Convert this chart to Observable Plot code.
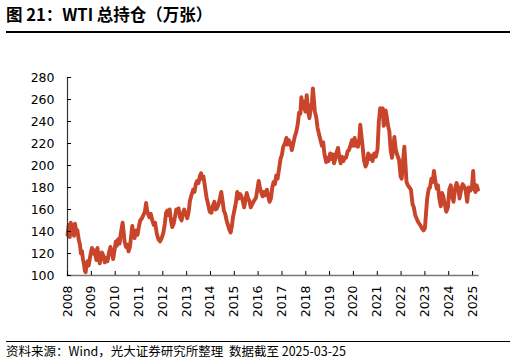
<!DOCTYPE html>
<html><head><meta charset="utf-8">
<script src="https://cdn.jsdelivr.net/npm/d3@7"></script>
<script src="https://cdn.jsdelivr.net/npm/@observablehq/plot@0.6"></script>
<style>
body{margin:0;background:#fff;width:516px;height:364px;position:relative;overflow:hidden;font-family:"Noto Sans CJK SC",sans-serif}
#title{position:absolute;left:6px;top:4px;font-size:16.5px;line-height:20px;font-weight:bold;color:#000;white-space:nowrap}
#tline{position:absolute;left:6px;top:31px;width:504px;height:1.5px;background:#000}
#chart{position:absolute;left:0;top:0}
#fline{position:absolute;left:6px;top:341px;width:504px;height:1px;background:#000}
#foot{position:absolute;left:6px;top:343px;font-size:12.5px;line-height:16px;color:#000;white-space:nowrap}
</style></head>
<body>
<div id="chart"></div>
<div id="title">图 21：WTI 总持仓（万张）</div>
<div id="tline"></div>
<div id="fline"></div>
<div id="foot">资料来源：Wind，光大证券研究所整理&nbsp;&nbsp;数据截至 2025-03-25</div>
<script>
const dates = [
"2008-01-02","2008-01-20","2008-02-05","2008-02-20","2008-03-10","2008-03-25","2008-04-10","2008-04-25","2008-05-15","2008-06-01","2008-06-20","2008-07-10","2008-07-25","2008-08-10","2008-08-25","2008-09-10","2008-09-25","2008-10-05","2008-10-20","2008-11-05","2008-11-20","2008-12-10","2008-12-25",
"2009-01-10","2009-01-25","2009-02-10","2009-03-01","2009-03-20","2009-04-05","2009-04-20","2009-05-10","2009-05-25","2009-06-10","2009-07-05","2009-07-25","2009-08-15","2009-09-05","2009-09-25","2009-10-20","2009-11-10","2009-12-01","2009-12-20",
"2010-01-10","2010-01-25","2010-02-15","2010-03-10","2010-03-25","2010-04-10","2010-04-25","2010-05-10","2010-05-25","2010-06-15","2010-07-05","2010-07-25","2010-08-15","2010-09-05","2010-09-20","2010-10-05","2010-10-25","2010-11-15","2010-12-10",
"2011-01-01","2011-01-20","2011-02-15","2011-03-10","2011-04-01","2011-04-20","2011-05-05","2011-05-20","2011-06-10","2011-07-01","2011-07-25","2011-08-15","2011-09-05","2011-10-01","2011-10-25","2011-11-20","2011-12-15",
"2012-01-10","2012-02-01","2012-02-20","2012-03-10","2012-03-25","2012-04-15","2012-05-05","2012-05-25","2012-06-15","2012-07-05","2012-07-25","2012-08-10","2012-08-30","2012-09-20","2012-10-15","2012-11-05","2012-11-25","2012-12-15",
"2013-01-10","2013-02-01","2013-02-20","2013-03-15","2013-04-10","2013-05-01","2013-05-20","2013-06-10","2013-07-01","2013-07-20","2013-08-10","2013-08-25","2013-09-15","2013-10-10","2013-11-01","2013-11-25","2013-12-20",
"2014-01-15","2014-02-05","2014-03-01","2014-03-20","2014-04-10","2014-05-05","2014-05-25","2014-06-15","2014-07-05","2014-07-25","2014-08-15","2014-09-05","2014-09-25","2014-10-15","2014-11-05","2014-11-25","2014-12-15",
"2015-01-05","2015-01-25","2015-02-15","2015-03-10","2015-04-01","2015-04-20","2015-05-10","2015-06-01","2015-06-20","2015-07-10","2015-08-01","2015-08-20","2015-09-10","2015-10-05","2015-11-01","2015-12-01","2015-12-20",
"2016-01-10","2016-01-25","2016-02-15","2016-03-10","2016-04-01","2016-04-20","2016-05-15","2016-06-05","2016-06-25","2016-07-15","2016-08-05","2016-08-25","2016-09-15","2016-10-05","2016-10-25","2016-11-15","2016-12-10",
"2017-01-01","2017-01-20","2017-02-15","2017-03-10","2017-03-25","2017-04-15","2017-05-10","2017-06-01","2017-06-20","2017-07-15","2017-08-10","2017-09-01","2017-09-20","2017-10-10","2017-10-25","2017-11-15","2017-12-05","2017-12-25",
"2018-01-15","2018-02-05","2018-02-25","2018-03-15","2018-04-05","2018-04-20","2018-05-05","2018-05-20","2018-06-10","2018-07-01","2018-07-25","2018-08-15","2018-09-05","2018-09-25","2018-10-15","2018-11-10","2018-11-25","2018-12-15",
"2019-01-10","2019-02-01","2019-02-20","2019-03-10","2019-03-25","2019-04-15","2019-05-10","2019-06-01","2019-06-20","2019-07-10","2019-08-01","2019-08-20","2019-09-10","2019-10-05","2019-10-25","2019-11-20","2019-12-10","2019-12-30",
"2020-01-20","2020-02-05","2020-02-25","2020-03-10","2020-04-01","2020-04-15","2020-05-01","2020-05-20","2020-06-10","2020-07-05","2020-07-25","2020-08-15","2020-09-05","2020-09-25","2020-10-20","2020-11-15","2020-12-10",
"2021-01-05","2021-01-25","2021-02-15","2021-03-05","2021-03-25","2021-04-10","2021-04-25","2021-05-10","2021-05-25","2021-06-15","2021-07-05","2021-07-25","2021-08-15","2021-09-01","2021-09-20","2021-10-10","2021-11-01","2021-12-01","2021-12-25",
"2022-01-10","2022-02-01","2022-02-20","2022-03-10","2022-03-25","2022-04-15","2022-05-10","2022-06-01","2022-06-25","2022-07-15","2022-08-05","2022-09-01","2022-09-25","2022-10-20","2022-11-15","2022-12-10",
"2023-01-01","2023-01-20","2023-02-05","2023-03-01","2023-03-20","2023-04-10","2023-05-01","2023-05-20","2023-06-10","2023-07-01","2023-07-20","2023-08-10","2023-09-01","2023-09-20","2023-10-10","2023-11-01","2023-11-25","2023-12-20",
"2024-01-10","2024-02-01","2024-02-20","2024-03-15","2024-04-10","2024-05-01","2024-05-25","2024-06-15","2024-07-10","2024-08-01","2024-08-25","2024-09-15","2024-10-10","2024-11-01","2024-11-25","2024-12-20",
"2025-01-10","2025-01-25","2025-02-15","2025-03-05","2025-03-25"
];
const values = [
137,146,135,148,138,146,136,147,140,141,133,128,120,122,115,110,104,103,110,113,109,116,121,
125,120,123,119,114,125,118,111,116,121,118,112,116,113,120,126,121,115,122,
131,127,133,129,137,143,148,140,131,126,128,122,126,137,145,138,134,141,137,
145,150,152,155,158,166,159,156,153,156,150,146,148,138,133,131,134,
139,147,157,159,155,160,150,144,147,153,160,158,161,153,150,157,160,156,
152,158,168,173,178,176,183,186,184,190,193,188,190,180,171,165,158,
157,163,167,160,161,165,170,176,168,159,156,150,146,142,139,145,154,
160,166,176,170,174,172,168,162,168,175,170,168,162,165,168,171,178,
186,181,176,172,176,173,178,172,167,170,180,185,183,191,188,196,206,
210,217,220,225,219,223,220,214,219,226,231,238,248,247,262,252,258,249,
264,250,243,250,258,270,260,249,244,234,228,223,218,221,210,203,207,204,
211,206,210,202,205,211,216,207,202,208,204,207,207,213,214,219,223,218,
225,218,222,217,224,237,228,218,205,199,202,211,206,209,204,211,208,
215,240,252,245,252,236,240,250,245,236,231,214,207,214,226,215,210,205,190,
188,205,217,200,185,182,180,178,165,162,155,151,148,146,143,141,
143,158,170,179,180,188,185,195,186,179,182,170,163,175,172,165,158,162,
178,182,172,167,180,184,180,170,178,183,181,178,167,180,177,179,
195,179,176,182,178
];
const yearTicks = ["2008","2009","2010","2011","2012","2013","2014","2015","2016","2017","2018","2019","2020","2021","2022","2023","2024","2025"];
const yTicks = [100,120,140,160,180,200,220,240,260,280];

const data = dates.map((d,i)=>({date:new Date(d+"T00:00:00Z"), value:values[i]}));
const chart = Plot.plot({
  width:516, height:364,
  marginTop:77, marginBottom:89, marginLeft:67, marginRight:38.5,
  style:{fontFamily:"'DejaVu Sans', sans-serif", fontSize:"12.5px", color:"#000", background:"transparent"},
  x:{type:"utc", domain:[new Date("2008-01-01T00:00:00Z"), new Date("2025-03-25T00:00:00Z")]},
  y:{domain:[100,280]},
  marks:[
    Plot.lineY(data,{x:"date", y:"value", stroke:"#c8442a", strokeWidth:3.9, strokeLinejoin:"round"}),
    Plot.frame({anchor:"left", stroke:"#333", strokeWidth:1.2}),
    Plot.frame({anchor:"bottom", stroke:"#777", strokeWidth:1.3}),
    Plot.axisY(yTicks,{tickSize:-4, tickPadding:17, fontSize:12.5, label:null}),
    Plot.axisX(yearTicks.map(y=>new Date(y+"-01-01T00:00:00Z")),{tickSize:-4, tickPadding:14, tickRotate:-90, fontSize:12.5, label:null, tickFormat:d=>String(d.getUTCFullYear())})
  ]
});
document.getElementById("chart").appendChild(chart);
</script>
</body></html>
